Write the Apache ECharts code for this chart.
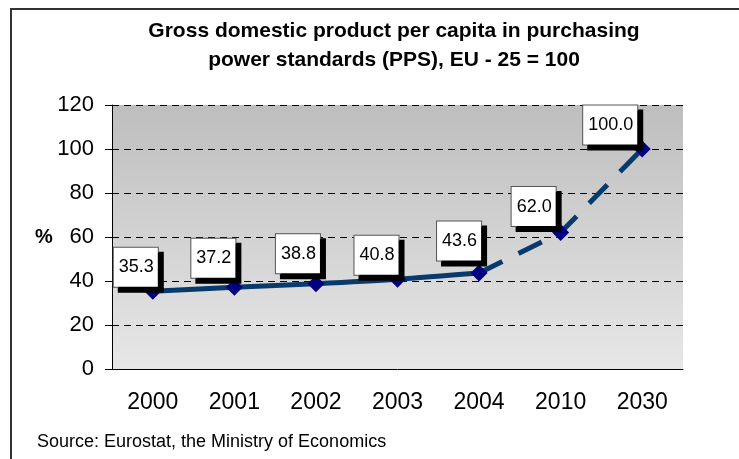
<!DOCTYPE html>
<html>
<head>
<meta charset="utf-8">
<script src="https://cdn.jsdelivr.net/npm/echarts@6/dist/echarts.min.js"></script>
<style>
  html, body { margin: 0; padding: 0; background: #fff; }
  #chart { width: 739px; height: 459px; }
</style>
</head>
<body>
<div id="chart"></div>
<script>
// values
const years = ['2000', '2001', '2002', '2003', '2004', '2010', '2030'];
const gdpValues = [35.3, 37.2, 38.8, 40.8, 43.6, 62.0, 100.0];
const lastActual = 4; // 2004 is the last real figure, the rest is forecast

const actual = gdpValues.map((v, i) => (i <= lastActual ? v : '-'));
const forecast = gdpValues.map((v, i) => (i >= lastActual ? v : '-'));

// where each value box sits relative to its point (px)
const labelShift = [[-17, -24], [-21, -29], [-18, -30], [-21, -24], [-20, -32], [-27, -26], [-32, -24]];

const chart = echarts.init(document.getElementById('chart'));

const lineColor = '#083a6e';
const font = 'Liberation Sans, Arial, sans-serif';

const option = {
    animation: false,
    title: {
        text: 'Gross domestic product per capita in purchasing\npower standards (PPS), EU - 25 = 100',
        left: 394,
        top: 17,
        textAlign: 'center',
        padding: 0,
        textStyle: { fontFamily: font, fontSize: 21, fontWeight: 'bold', color: '#000', lineHeight: 28.5 }
    },
    grid: {
        left: 112,
        right: 56,
        top: 105,
        bottom: 90,
        show: true,
        borderWidth: 0,
        backgroundColor: {
            type: 'linear', x: 0, y: 0, x2: 0, y2: 1,
            colorStops: [{ offset: 0, color: '#bebebe' }, { offset: 1, color: '#e7e7e7' }]
        }
    },
    xAxis: {
        type: 'category',
        data: years,
        boundaryGap: true,
        axisLine: { lineStyle: { color: '#000', width: 1 } },
        axisTick: { length: 7, lineStyle: { color: '#000' } },
        axisLabel: { fontFamily: font, fontSize: 23, color: '#000', margin: 22 }
    },
    yAxis: {
        type: 'value',
        min: 0,
        max: 120,
        interval: 20,
        axisLine: { show: true, lineStyle: { color: '#000', width: 1 } },
        axisTick: { show: true, length: 7, lineStyle: { color: '#000' } },
        axisLabel: { fontFamily: font, fontSize: 22, color: '#000', margin: 18 },
        splitLine: { lineStyle: { color: '#000', width: 1, type: [7, 5] } }
    },
    graphic: [
        {
            type: 'rect',
            shape: { x: 11, y: 9, width: 800, height: 500 },
            style: { fill: 'none', stroke: '#333', lineWidth: 2 },
            silent: true
        },
        {
            type: 'text',
            left: 35,
            top: 227,
            style: { text: '%', font: 'bold 20px ' + font, fill: '#000' }
        },
        {
            type: 'text',
            left: 37,
            top: 433,
            style: { text: 'Source: Eurostat, the Ministry of Economics', font: '18px ' + font, fill: '#000' }
        }
    ],
    series: [
        {
            name: 'actual',
            type: 'line',
            data: actual,
            smooth: 0.3,
            showSymbol: false,
            lineStyle: { color: lineColor, width: 5 },
            z: 2
        },
        {
            name: 'forecast',
            type: 'line',
            data: forecast,
            showSymbol: false,
            lineStyle: { color: lineColor, width: 5, type: [26, 18] },
            z: 2
        },
        {
            name: 'points',
            type: 'line',
            data: gdpValues.map((v, i) => ({
                value: v,
                label: { offset: labelShift[i] }
            })),
            symbol: 'diamond',
            symbolSize: [17, 17],
            itemStyle: { color: '#000080' },
            lineStyle: { opacity: 0 },
            z: 3,
            label: {
                show: true,
                position: 'inside',
                formatter: p => p.value.toFixed(1),
                fontFamily: font,
                fontSize: 18,
                color: '#000',
                lineHeight: 19,
                backgroundColor: '#fff',
                borderColor: '#555',
                borderWidth: 1,
                padding: [10, 4, 10, 5],
                shadowColor: '#000',
                shadowBlur: 0,
                shadowOffsetX: 5,
                shadowOffsetY: 5
            }
        }
    ]
};

chart.setOption(option);
</script>
</body>
</html>
